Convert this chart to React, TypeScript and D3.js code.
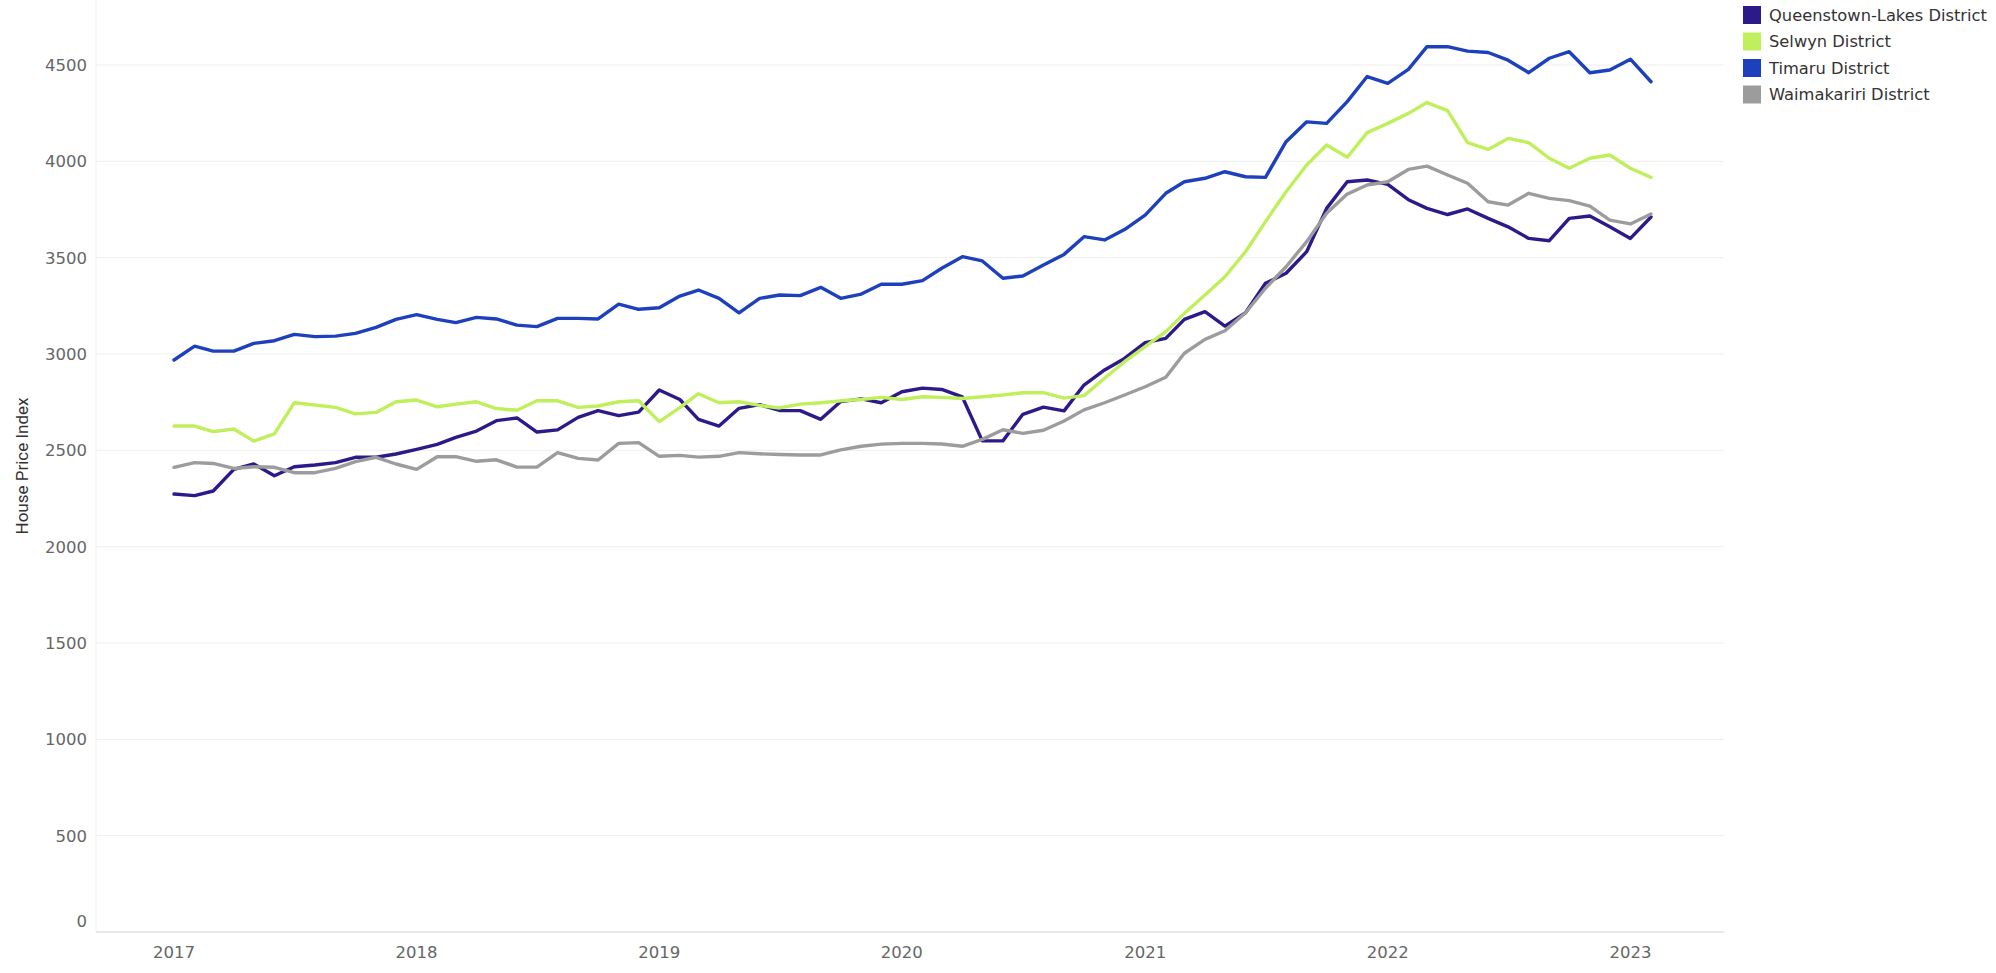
import React from "react";
import * as d3 from "d3";

const seriesNames = ["Queenstown-Lakes District", "Selwyn District", "Timaru District", "Waimakariri District"];
const seriesColors = ["#2c1a8a", "#bff05c", "#1d40bd", "#9c9c9c"];

const startMonth = "2017-01";
const monthCount = 74;

const queenstown = [
  2273, 2265, 2289, 2401, 2429, 2368, 2415, 2424, 2436, 2464,
  2464, 2481, 2505, 2531, 2567, 2600, 2654, 2668, 2595, 2606,
  2671, 2706, 2680, 2698, 2813, 2764, 2661, 2626, 2718, 2737,
  2707, 2706, 2661, 2753, 2767, 2747, 2804, 2823, 2816, 2777,
  2549, 2549, 2687, 2724, 2705, 2839, 2917, 2977, 3059, 3081,
  3180, 3220, 3145, 3214, 3367, 3419, 3531, 3756, 3894, 3903,
  3880, 3801, 3756, 3724, 3753, 3704, 3660, 3600, 3588, 3704,
  3716, 3660, 3600, 3711,
];
const selwyn = [
  2626, 2626, 2597, 2611, 2548, 2585, 2747, 2735, 2723, 2689,
  2697, 2752, 2761, 2726, 2740, 2752, 2717, 2708, 2757, 2757,
  2723, 2730, 2752, 2757, 2649, 2722, 2794, 2747, 2752, 2733,
  2720, 2740, 2747, 2757, 2764, 2775, 2764, 2778, 2775, 2769,
  2778, 2787, 2799, 2799, 2771, 2784, 2874, 2960, 3038, 3116,
  3211, 3306, 3401, 3531, 3687, 3842, 3981, 4085, 4021, 4149,
  4197, 4249, 4305, 4263, 4097, 4062, 4119, 4097, 4016, 3964,
  4016, 4033, 3964, 3917,
];
const timaru = [
  2969, 3041, 3015, 3015, 3055, 3069, 3102, 3090, 3093, 3107,
  3138, 3180, 3204, 3180, 3163, 3190, 3182, 3150, 3142, 3185,
  3185, 3182, 3259, 3232, 3240, 3301, 3332, 3289, 3214, 3289,
  3306, 3303, 3346, 3289, 3311, 3362, 3362, 3381, 3445, 3505,
  3483, 3393, 3405, 3462, 3517, 3609, 3592, 3646, 3721, 3834,
  3894, 3912, 3946, 3920, 3917, 4102, 4205, 4197, 4310, 4440,
  4405, 4477, 4595, 4595, 4572, 4565, 4525, 4460, 4535, 4569,
  4460, 4474, 4530, 4413,
];
const waimakariri = [
  2412, 2436, 2432, 2406, 2415, 2412, 2384, 2384, 2406, 2441,
  2464, 2429, 2401, 2467, 2467, 2443, 2451, 2413, 2413, 2488,
  2458, 2450, 2536, 2540, 2469, 2474, 2465, 2469, 2488, 2482,
  2478, 2476, 2476, 2502, 2521, 2532, 2536, 2536, 2533, 2521,
  2557, 2607, 2588, 2604, 2652, 2710, 2747, 2787, 2830, 2879,
  3004, 3076, 3121, 3214, 3341, 3453, 3583, 3730, 3830, 3877,
  3894, 3958, 3975, 3929, 3886, 3790, 3773, 3834, 3808, 3796,
  3768, 3695, 3675, 3727,
];
const seriesValues = [queenstown, selwyn, timaru, waimakariri];

const yTicks = [0, 500, 1000, 1500, 2000, 2500, 3000, 3500, 4000, 4500];
const xTickYears = [2017, 2018, 2019, 2020, 2021, 2022, 2023];
const yTitle = "House Price Index";

const W = 1996;
const H = 973;

export default function App() {
  const parse = d3.timeParse("%Y-%m");
  const start = parse(startMonth) as Date;
  const months = d3.range(monthCount).map((i) => d3.timeMonth.offset(start, i));

  const x = d3.scaleTime().domain([months[0], months[months.length - 1]]).range([174, 1651]);
  const y = d3.scaleLinear().domain([0, 4500]).range([932, 65]);

  const line = d3
    .line<number>()
    .x((_, i) => x(months[i]))
    .y((d) => y(d));

  const tickFont = "'DejaVu Sans', sans-serif";

  return (
    <svg
      width={W}
      height={H}
      style={{ position: "absolute", left: 0, top: 0, display: "block", background: "#fff" }}
    >
      <line x1={96} x2={96} y1={0} y2={932} stroke="#f2f2f2" strokeWidth={1} />
      {yTicks.map((t) => (
        <line
          key={"g" + t}
          x1={96}
          x2={1724}
          y1={y(t)}
          y2={y(t)}
          stroke={t === 0 ? "#e8e8e8" : "#eeeeee"}
          strokeWidth={t === 0 ? 2 : 1}
        />
      ))}
      {yTicks.map((t) => (
        <text
          key={"yl" + t}
          x={87}
          y={Math.min(y(t), y(0) - 11)}
          dy="0.36em"
          textAnchor="end"
          fontFamily={tickFont}
          fontSize={16.5}
          fill="#666666"
        >
          {t}
        </text>
      ))}
      {xTickYears.map((yr) => (
        <text
          key={"xl" + yr}
          x={x(new Date(yr, 0, 1))}
          y={952}
          dy="0.36em"
          textAnchor="middle"
          fontFamily={tickFont}
          fontSize={16.5}
          fill="#666666"
        >
          {yr}
        </text>
      ))}
      <text
        transform={`translate(22,466) rotate(-90)`}
        textAnchor="middle"
        dy="0.36em"
        fontFamily="Roboto, sans-serif"
        fontSize={17}
        fill="#333333"
      >
        {yTitle}
      </text>
      {seriesValues.map((vals, si) => (
        <path
          key={"s" + si}
          d={line(vals) || ""}
          fill="none"
          stroke={seriesColors[si]}
          strokeWidth={3.4}
          strokeLinejoin="round"
          strokeLinecap="round"
        />
      ))}
      {seriesNames.map((name, i) => (
        <g key={"lg" + i} transform={`translate(1743,${6 + i * 26.5})`}>
          <rect width={18} height={18} fill={seriesColors[i]} />
          <text x={26} y={9} dy="0.36em" fontFamily={tickFont} fontSize={16.3} fill="#333333">
            {name}
          </text>
        </g>
      ))}
    </svg>
  );
}
